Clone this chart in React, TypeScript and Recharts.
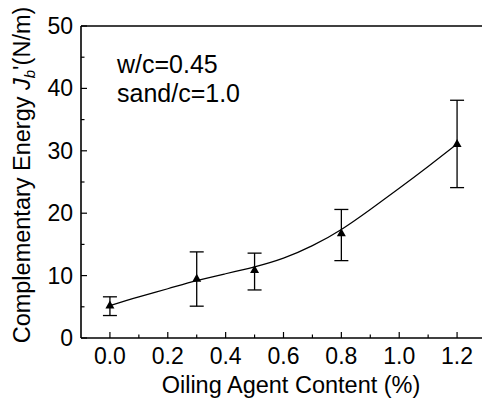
import {
  ComposedChart,
  Customized,
  ErrorBar,
  Line,
  ReferenceLine,
  Scatter,
  XAxis,
  YAxis,
} from "recharts";

const FONT = "'Liberation Sans', Arial, sans-serif";

// measured points
const OIL_CONTENT = [0, 0.3, 0.5, 0.8, 1.2];
const J_MEAN = [5.2, 9.5, 10.9, 16.8, 31.1];
const J_LOW = [3.6, 5.1, 7.7, 12.4, 24.1];
const J_HIGH = [6.6, 13.8, 13.6, 20.6, 38.1];

// fitted curve
const FIT_X = [0, 0.1, 0.2, 0.3, 0.4, 0.5, 0.6, 0.7, 0.8, 0.9, 1.0, 1.1, 1.2];
const FIT_Y = [5.2, 6.6, 7.9, 9.2, 10.3, 11.4, 12.8, 14.8, 17.4, 20.6, 24.0, 27.5, 31.1];

const X_TICKS = [0, 0.1, 0.2, 0.3, 0.4, 0.5, 0.6, 0.7, 0.8, 0.9, 1.0, 1.1, 1.2];
const X_LABELED = [0, 0.2, 0.4, 0.6, 0.8, 1.0, 1.2];
const Y_TICKS = [0, 5, 10, 15, 20, 25, 30, 35, 40, 45, 50];
const Y_LABELED = [0, 10, 20, 30, 40, 50];

const NOTES = ["w/c=0.45", "sand/c=1.0"];

const points = OIL_CONTENT.map((x, i) => ({
  x,
  y: J_MEAN[i],
  err: [J_MEAN[i] - J_LOW[i], J_HIGH[i] - J_MEAN[i]],
}));

const fit = FIT_X.map((x, i) => ({ x, y: FIT_Y[i] }));

const isLabeled = (list: number[], v: number) =>
  list.some((t) => Math.abs(t - v) < 1e-6);

function XTick(props: any) {
  const { x, y, payload } = props;
  const major = isLabeled(X_LABELED, payload.value);
  return (
    <g>
      <line x1={x} x2={x} y1={y} y2={y - (major ? 6 : 3.5)} stroke="#000" strokeWidth={1.2} />
      {major && (
        <text x={x} y={y + 26} textAnchor="middle" fontSize={23} fontFamily={FONT} fill="#000">
          {payload.value.toFixed(1)}
        </text>
      )}
    </g>
  );
}

function YTick(props: any) {
  const { x, y, payload } = props;
  const major = isLabeled(Y_LABELED, payload.value);
  return (
    <g>
      <line x1={x} x2={x + (major ? 6 : 3.5)} y1={y} y2={y} stroke="#000" strokeWidth={1.2} />
      {major && (
        <text x={x - 8} y={y + 8} textAnchor="end" fontSize={23} fontFamily={FONT} fill="#000">
          {payload.value}
        </text>
      )}
    </g>
  );
}

function Triangle(props: any) {
  const { cx, cy } = props;
  if (cx == null || cy == null) return null;
  return (
    <polygon
      points={`${cx},${cy - 5} ${cx - 4.5},${cy + 3} ${cx + 4.5},${cy + 3}`}
      fill="#000"
    />
  );
}

function Notes() {
  return (
    <g fontFamily={FONT} fontSize={25} fill="#000">
      {NOTES.map((t, i) => (
        <text key={t} x={117} y={73 + i * 29}>
          {t}
        </text>
      ))}
    </g>
  );
}

export default function App() {
  return (
    <div
      style={{
        position: "absolute",
        left: 0,
        top: 0,
        width: 482,
        height: 400,
        overflow: "hidden",
        background: "#fff",
      }}
    >
      <ComposedChart
        width={490}
        height={400}
        margin={{ top: 26, right: 4, left: 0, bottom: 0 }}
      >
        <XAxis
          dataKey="x"
          type="number"
          domain={[-0.1, 1.3]}
          ticks={X_TICKS}
          interval={0}
          tickSize={0}
          tickMargin={0}
          tickLine={false}
          tick={(p: any) => <XTick {...p} />}
          axisLine={{ stroke: "#000", strokeWidth: 1.6 }}
          height={62}
          allowDataOverflow
          label={{
            content: () => (
              <text x={291} y={393} textAnchor="middle" fontSize={23.5} fontFamily={FONT} fill="#000">
                Oiling Agent Content (%)
              </text>
            ),
          }}
        />
        <YAxis
          dataKey="y"
          type="number"
          domain={[0, 50]}
          ticks={Y_TICKS}
          interval={0}
          tickSize={0}
          tickMargin={0}
          tickLine={false}
          tick={(p: any) => <YTick {...p} />}
          axisLine={{ stroke: "#000", strokeWidth: 1.6 }}
          width={81}
          label={{
            content: () => (
              <text
                transform="translate(30,175) rotate(-90)"
                textAnchor="middle"
                fontSize={23.5}
                fontFamily={FONT}
                fill="#000"
              >
                Complementary Energy{" "}
                <tspan fontStyle="italic">J</tspan>
                <tspan fontStyle="italic" fontSize={15} dy={5}>
                  b
                </tspan>
                <tspan dy={-5}>{"'(N/m)"}</tspan>
              </text>
            ),
          }}
        />
        <ReferenceLine y={50} stroke="#000" strokeWidth={1.6} />
        <ReferenceLine x={1.3} stroke="#000" strokeWidth={1.6} />
        <Line
          data={fit}
          dataKey="y"
          type="natural"
          stroke="#000"
          strokeWidth={1.2}
          dot={false}
          activeDot={false}
          isAnimationActive={false}
        />
        <Scatter data={points} dataKey="y" shape={<Triangle />} isAnimationActive={false}>
          <ErrorBar
            dataKey="err"
            direction="y"
            width={7}
            stroke="#000"
            strokeWidth={1.3}
            isAnimationActive={false}
          />
        </Scatter>
        <Customized component={Notes} />
      </ComposedChart>
    </div>
  );
}
